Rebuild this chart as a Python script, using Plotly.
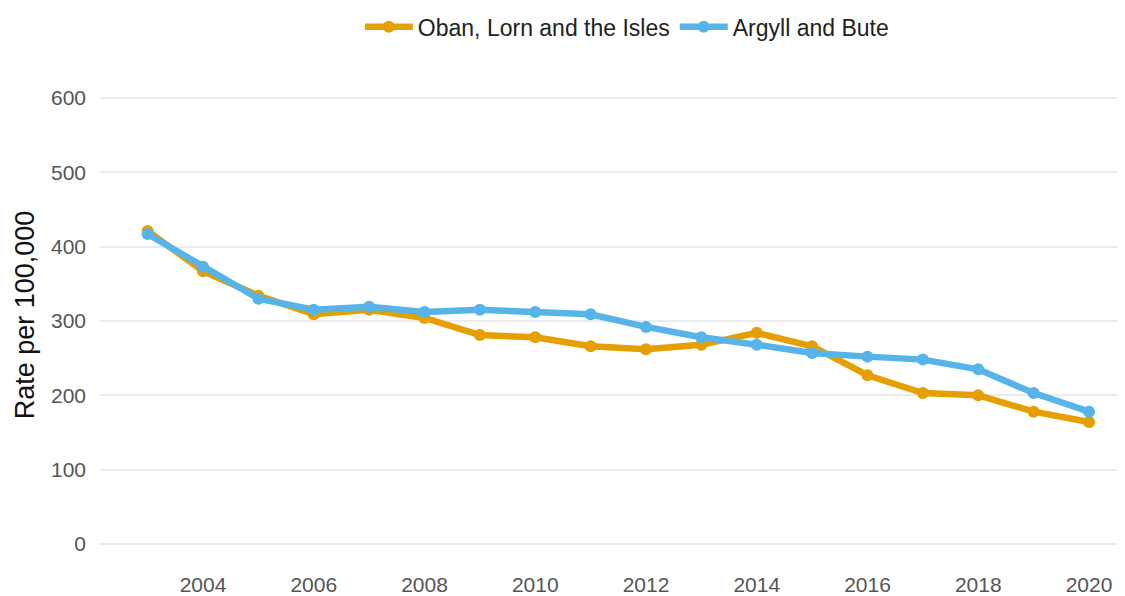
import plotly.graph_objects as go

years = list(range(2003, 2021))
oban = [421, 367, 334, 309, 315, 304, 281, 278, 266, 262, 268, 284, 266, 227, 203, 200, 178, 164]
argyll = [417, 373, 330, 315, 319, 312, 315, 312, 309, 292, 278, 268, 257, 252, 248, 235, 203, 178]

series_names = ["Oban, Lorn and the Isles", "Argyll and Bute"]
colors = ["#E69F00", "#56B4E9"]

fig = go.Figure()
for name, vals, c in zip(series_names, [oban, argyll], colors):
    fig.add_trace(go.Scatter(x=years, y=vals, name=name, mode="lines+markers",
                             line=dict(color=c, width=6.5),
                             marker=dict(color=c, size=12)))

fig.update_layout(
    width=1117, height=588,
    margin=dict(l=92, r=0, t=52, b=26, autoexpand=False),
    paper_bgcolor="white", plot_bgcolor="white",
    font=dict(family="Liberation Sans, Arial, sans-serif"),
    showlegend=True,
    legend=dict(orientation="h", x=0.514, xanchor="center", y=1.065, yanchor="middle",
                font=dict(size=23, color="#222"), traceorder="normal",
                itemwidth=48, entrywidthmode="pixels"),
    xaxis=dict(range=[2002.14, 2020.65], tickvals=list(range(2004, 2021, 2)),
               showgrid=False, zeroline=False, showline=False, automargin=False,
               tickfont=dict(size=21, color="#555"), ticks="", ticklabelstandoff=0),
    yaxis=dict(range=[-35, 651], tickvals=[0, 100, 200, 300, 400, 500, 600],
               showgrid=True, gridcolor="#EBEBEB", gridwidth=2, zeroline=False,
               showline=False, automargin=False, tickfont=dict(size=21, color="#555"), ticks="",
               ticklabelstandoff=13,
               title=dict(text="Rate per 100,000", font=dict(size=27, color="#111"), standoff=8)),
)

fig.write_html("out.html")
